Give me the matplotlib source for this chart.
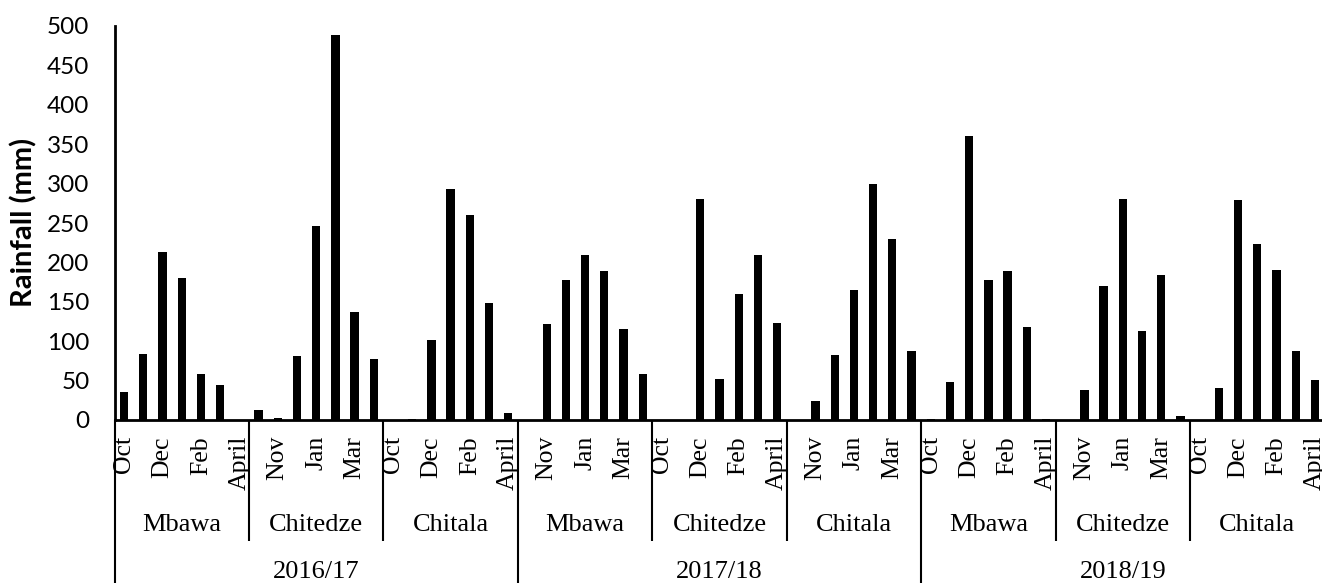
import numpy as np
import matplotlib.pyplot as plt

months = ['Oct', 'Nov', 'Dec', 'Jan', 'Feb', 'Mar', 'April']
stations = ['Mbawa', 'Chitedze', 'Chitala']
years = ['2016/17', '2017/18', '2018/19']

# rainfall (mm), one list per year/station group, Oct..April
mbawa_1617 = [35, 84, 213, 180, 58, 44, 0]
chitedze_1617 = [13, 2.5, 81, 246, 489, 137, 78]
chitala_1617 = [0, 1, 101, 293, 260, 148, 9]
mbawa_1718 = [0, 122, 178, 209, 189, 115, 59]
chitedze_1718 = [0, 0, 281, 52, 160, 209, 123]
chitala_1718 = [0, 24, 83, 165, 299, 230, 87]
mbawa_1819 = [1, 48, 360, 178, 189, 118, 1]
chitedze_1819 = [0.5, 38, 170, 280, 113, 184, 5.5]
chitala_1819 = [0, 41, 279, 223, 190, 88, 51]

groups = [mbawa_1617, chitedze_1617, chitala_1617,
          mbawa_1718, chitedze_1718, chitala_1718,
          mbawa_1819, chitedze_1819, chitala_1819]

values = np.concatenate(groups)
x = np.arange(len(values))
nm = len(months)
ns = len(stations)

W, H = 1322, 583
fig = plt.figure(figsize=(W/100, H/100), dpi=100)
# axes: left spine at x=114.5 px, zero line at y=420 px, 500 at y=26 px
ax = fig.add_axes([114.5/W, (H-420)/H, 1210/W, 394/H])

ax.bar(x, values, width=0.43, color='black')
ax.set_xlim(-0.5, len(values)-0.5)
ax.set_ylim(0, 500)
ax.set_yticks(np.arange(0, 501, 50))
ax.set_xticks([])
ax.tick_params(axis='y', length=0, pad=18, labelsize=17.5)
for lab in ax.get_yticklabels():
    lab.set_family('Lato')

for s in ['top', 'right']:
    ax.spines[s].set_visible(False)
ax.spines['left'].set_linewidth(2)
ax.spines['bottom'].set_linewidth(2)

fig.text(24/W, 1-222/H, 'Rainfall (mm)', rotation=90, ha='center',
         va='center', fontsize=21, fontweight='bold', family='Lato')

tr = ax.get_xaxis_transform()
serif = 'Liberation Serif'

def fy(py):
    # pixel row below axis -> axes fraction
    return -(py - 420) / 394

# month labels, every other category
for i in range(0, len(values), 2):
    ax.text(i, fy(436), months[i % nm], transform=tr, rotation=90,
            ha='center', va='top', fontsize=18.5, family=serif, clip_on=False)

# station labels
for g in range(len(groups)):
    c = g*nm + (nm-1)/2
    ax.text(c, fy(525), stations[g % ns], transform=tr, ha='center',
            va='center', fontsize=19, family=serif, clip_on=False)

# year labels
for k, yr in enumerate(years):
    c = k*nm*ns + (nm*ns-1)/2
    ax.text(c, fy(572), yr, transform=tr, ha='center', va='center',
            fontsize=19, family=serif, clip_on=False)

# separator lines
for g in range(len(groups)):
    xb = g*nm - 0.5
    if g % ns == 0:
        y1 = fy(H + 5)
    else:
        y1 = fy(541)
    ax.plot([xb, xb], [0, y1], transform=tr, color='black', lw=1.5,
            clip_on=False, solid_capstyle='butt')

fig.savefig('out.png', dpi=100)
